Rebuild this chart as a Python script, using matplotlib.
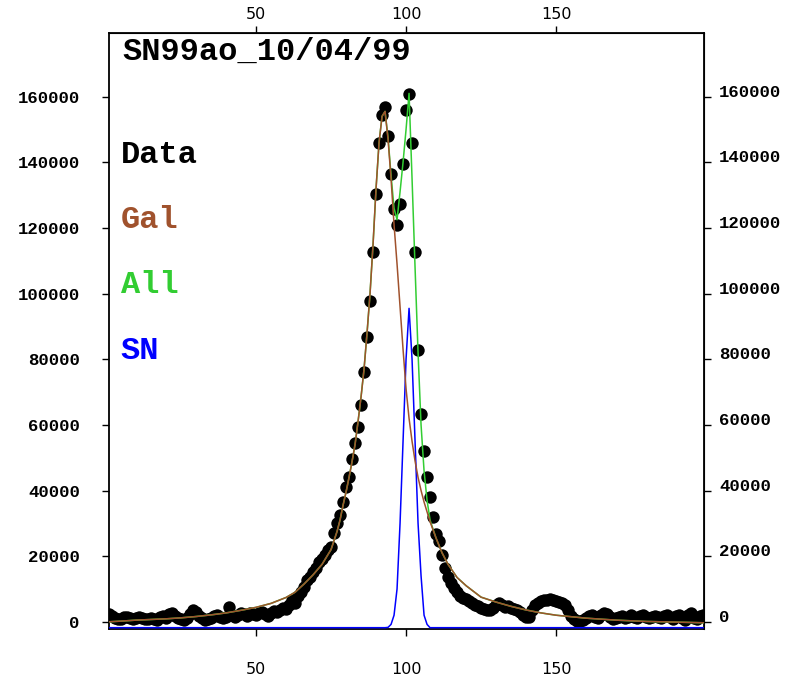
import matplotlib.pyplot as plt

# measured points, one per pixel column 1..199
px = list(range(1, 200))
data_y = [2500, 1800, 1200, 900, 700, 1400, 1600, 1300, 800, 1000,
          1500, 1200, 700, 900, 1300, 800, 600, 1400, 1700, 1100,
          2300, 2800, 1900, 1200, 800, 500, 1000, 2400, 3500, 2900,
          1800, 1100, 600, 800, 1300, 1800, 2100, 1500, 1000, 1400,
          4500, 2200, 1500, 2000, 2600, 2300, 1800, 2800, 2500, 2000,
          2600, 3000, 2400, 1800, 2600, 3200, 3000, 3600, 4200, 3800,
          5000, 6500, 5600, 7800, 9000, 10500, 12700, 13500, 15200, 16500,
          18300, 19000, 20300, 22000, 22900, 26900, 30000, 32500, 36600, 41200,
          44200, 49600, 54600, 59500, 66100, 76000, 86700, 97800, 112600, 130300,
          145900, 154500, 157000, 148000, 136400, 125700, 120900, 127300, 139400, 155900,
          160900, 145900, 112800, 82800, 63300, 52000, 44100, 37900, 31800, 26700,
          24700, 20300, 16400, 13500, 11800, 10300, 9000, 8000, 7200, 6800,
          6300, 5800, 5200, 4700, 4300, 4000, 3700, 3500, 4200, 5200,
          5600, 5000, 4600, 4800, 4300, 3800, 3500, 3000, 2200, 1500,
          1600, 3500, 5000, 5600, 6200, 6600, 6500, 6800, 6600, 6400,
          6000, 5600, 5100, 3500, 1800, 800, 300, 100, 600, 1300,
          1800, 2000, 1600, 1200, 2200, 2600, 2300, 1500, 900, 1000,
          1500, 1800, 1300, 1600, 2000, 1500, 1000, 1800, 2000, 1600,
          1200, 1400, 1800, 1500, 1100, 1700, 2000, 1400, 900, 1800,
          2100, 1300, 600, 2200, 2600, 1200, 700, 1800, 2000]

# galaxy model
gal_x = [1, 5, 10, 15, 20, 25, 30, 35, 40, 45, 50, 55, 60, 63, 66, 69, 72, 75, 77, 78,
         79, 80, 81, 82, 83, 84, 85, 86, 87, 88, 89, 90, 91, 92, 93, 94, 95, 96, 97, 98,
         99, 100, 101, 102, 103, 104, 105, 106, 107, 108, 109, 110, 112, 114, 117, 120,
         125, 130, 135, 140, 145, 150, 160, 170, 180, 190, 199]
gal_y = [0, 200, 500, 700, 900, 1200, 1600, 2100, 2700, 3500, 4400, 5600, 7400, 9000,
         11500, 14300, 17500, 22000, 27500, 31000, 35500, 39500, 44000, 48800, 54000,
         61000, 68500, 77000, 88000, 100000, 115000, 132000, 146000, 154000, 155500,
         147000, 135000, 121000, 109000, 96000, 83000, 71000, 62000, 55000, 49000,
         44000, 40000, 36500, 33500, 30500, 28000, 25500, 21000, 17500, 13500, 11000,
         7500, 6000, 4700, 3600, 2700, 2000, 1100, 500, 100, -100, -300]

# galaxy + SN, where it differs from the galaxy model
win_x = list(range(94, 111))
win_y = [147500, 136000, 126000, 122500, 131000, 140000, 150000, 161000, 135000,
         108000, 82000, 60000, 46000, 37000, 31000, 28200, 25500]

# SN model
sn_x = [1] + list(range(93, 109)) + [199]
sn_y = [-1800, -1800, -1700, -800, 2000, 10000, 30000, 55000, 80000, 95500, 80000,
        55000, 30000, 14000, 2000, -800, -1800, -1800]

all_x = [a for a in gal_x if a < 94] + win_x + [a for a in gal_x if a > 110]
all_y = [b for a, b in zip(gal_x, gal_y) if a < 94] + win_y + \
        [b for a, b in zip(gal_x, gal_y) if a > 110]

mono = 'Liberation Mono'

fig = plt.figure(figsize=(7.88, 6.84), dpi=100)
ax = fig.add_axes([109/788, 1 - 629/684, 595/788, 596/684])

ax.scatter(px, data_y, s=80, c='black', linewidths=0, zorder=2)
ax.plot(sn_x, sn_y, color='blue', lw=1.1, zorder=3)
ax.plot(all_x, all_y, color='limegreen', lw=1.1, zorder=4)
ax.plot(gal_x, gal_y, color='sienna', lw=1.1, zorder=5)

ax.set_xlim(1, 199.3)
ax.set_ylim(-2200, 179400)

for s in ax.spines.values():
    s.set_linewidth(1.3)

xt = [50, 100, 150]
yt = [0, 20000, 40000, 60000, 80000, 100000, 120000, 140000, 160000]

ax.set_xticks(xt)
ax.set_xticklabels([str(v) for v in xt], fontsize=11.5)
ax.tick_params(axis='x', direction='out', length=5, width=1, pad=19)
ax.set_yticks(yt)
ax.set_yticklabels([str(v) for v in yt], family=mono, weight='bold', fontsize=12.5)
ax.tick_params(axis='y', direction='out', length=5, width=1, pad=16)

top = ax.secondary_xaxis('top')
top.set_xticks(xt)
top.set_xticklabels([str(v) for v in xt], fontsize=11.5)
top.tick_params(direction='out', length=5, width=1, pad=3)

right = ax.secondary_yaxis('right')
right.set_yticks(yt)
right.set_yticklabels([str(v) for v in yt], family=mono, weight='bold', fontsize=12.5)
right.tick_params(direction='out', length=5, width=1, pad=6)
for lab in right.get_yticklabels():
    lab.set_va('baseline')

ax.text(0.022, 0.968, 'SN99ao_10/04/99', transform=ax.transAxes, family=mono,
        weight='bold', fontsize=23, va='center', ha='left')
for label, col, yy in [('Data', 'black', 0.795), ('Gal', 'sienna', 0.686),
                       ('All', 'limegreen', 0.577), ('SN', 'blue', 0.466)]:
    ax.text(0.02, yy, label, transform=ax.transAxes, family=mono, weight='bold',
            fontsize=23, color=col, va='center', ha='left')

fig.savefig('out.png', dpi=100)
plt.close(fig)
